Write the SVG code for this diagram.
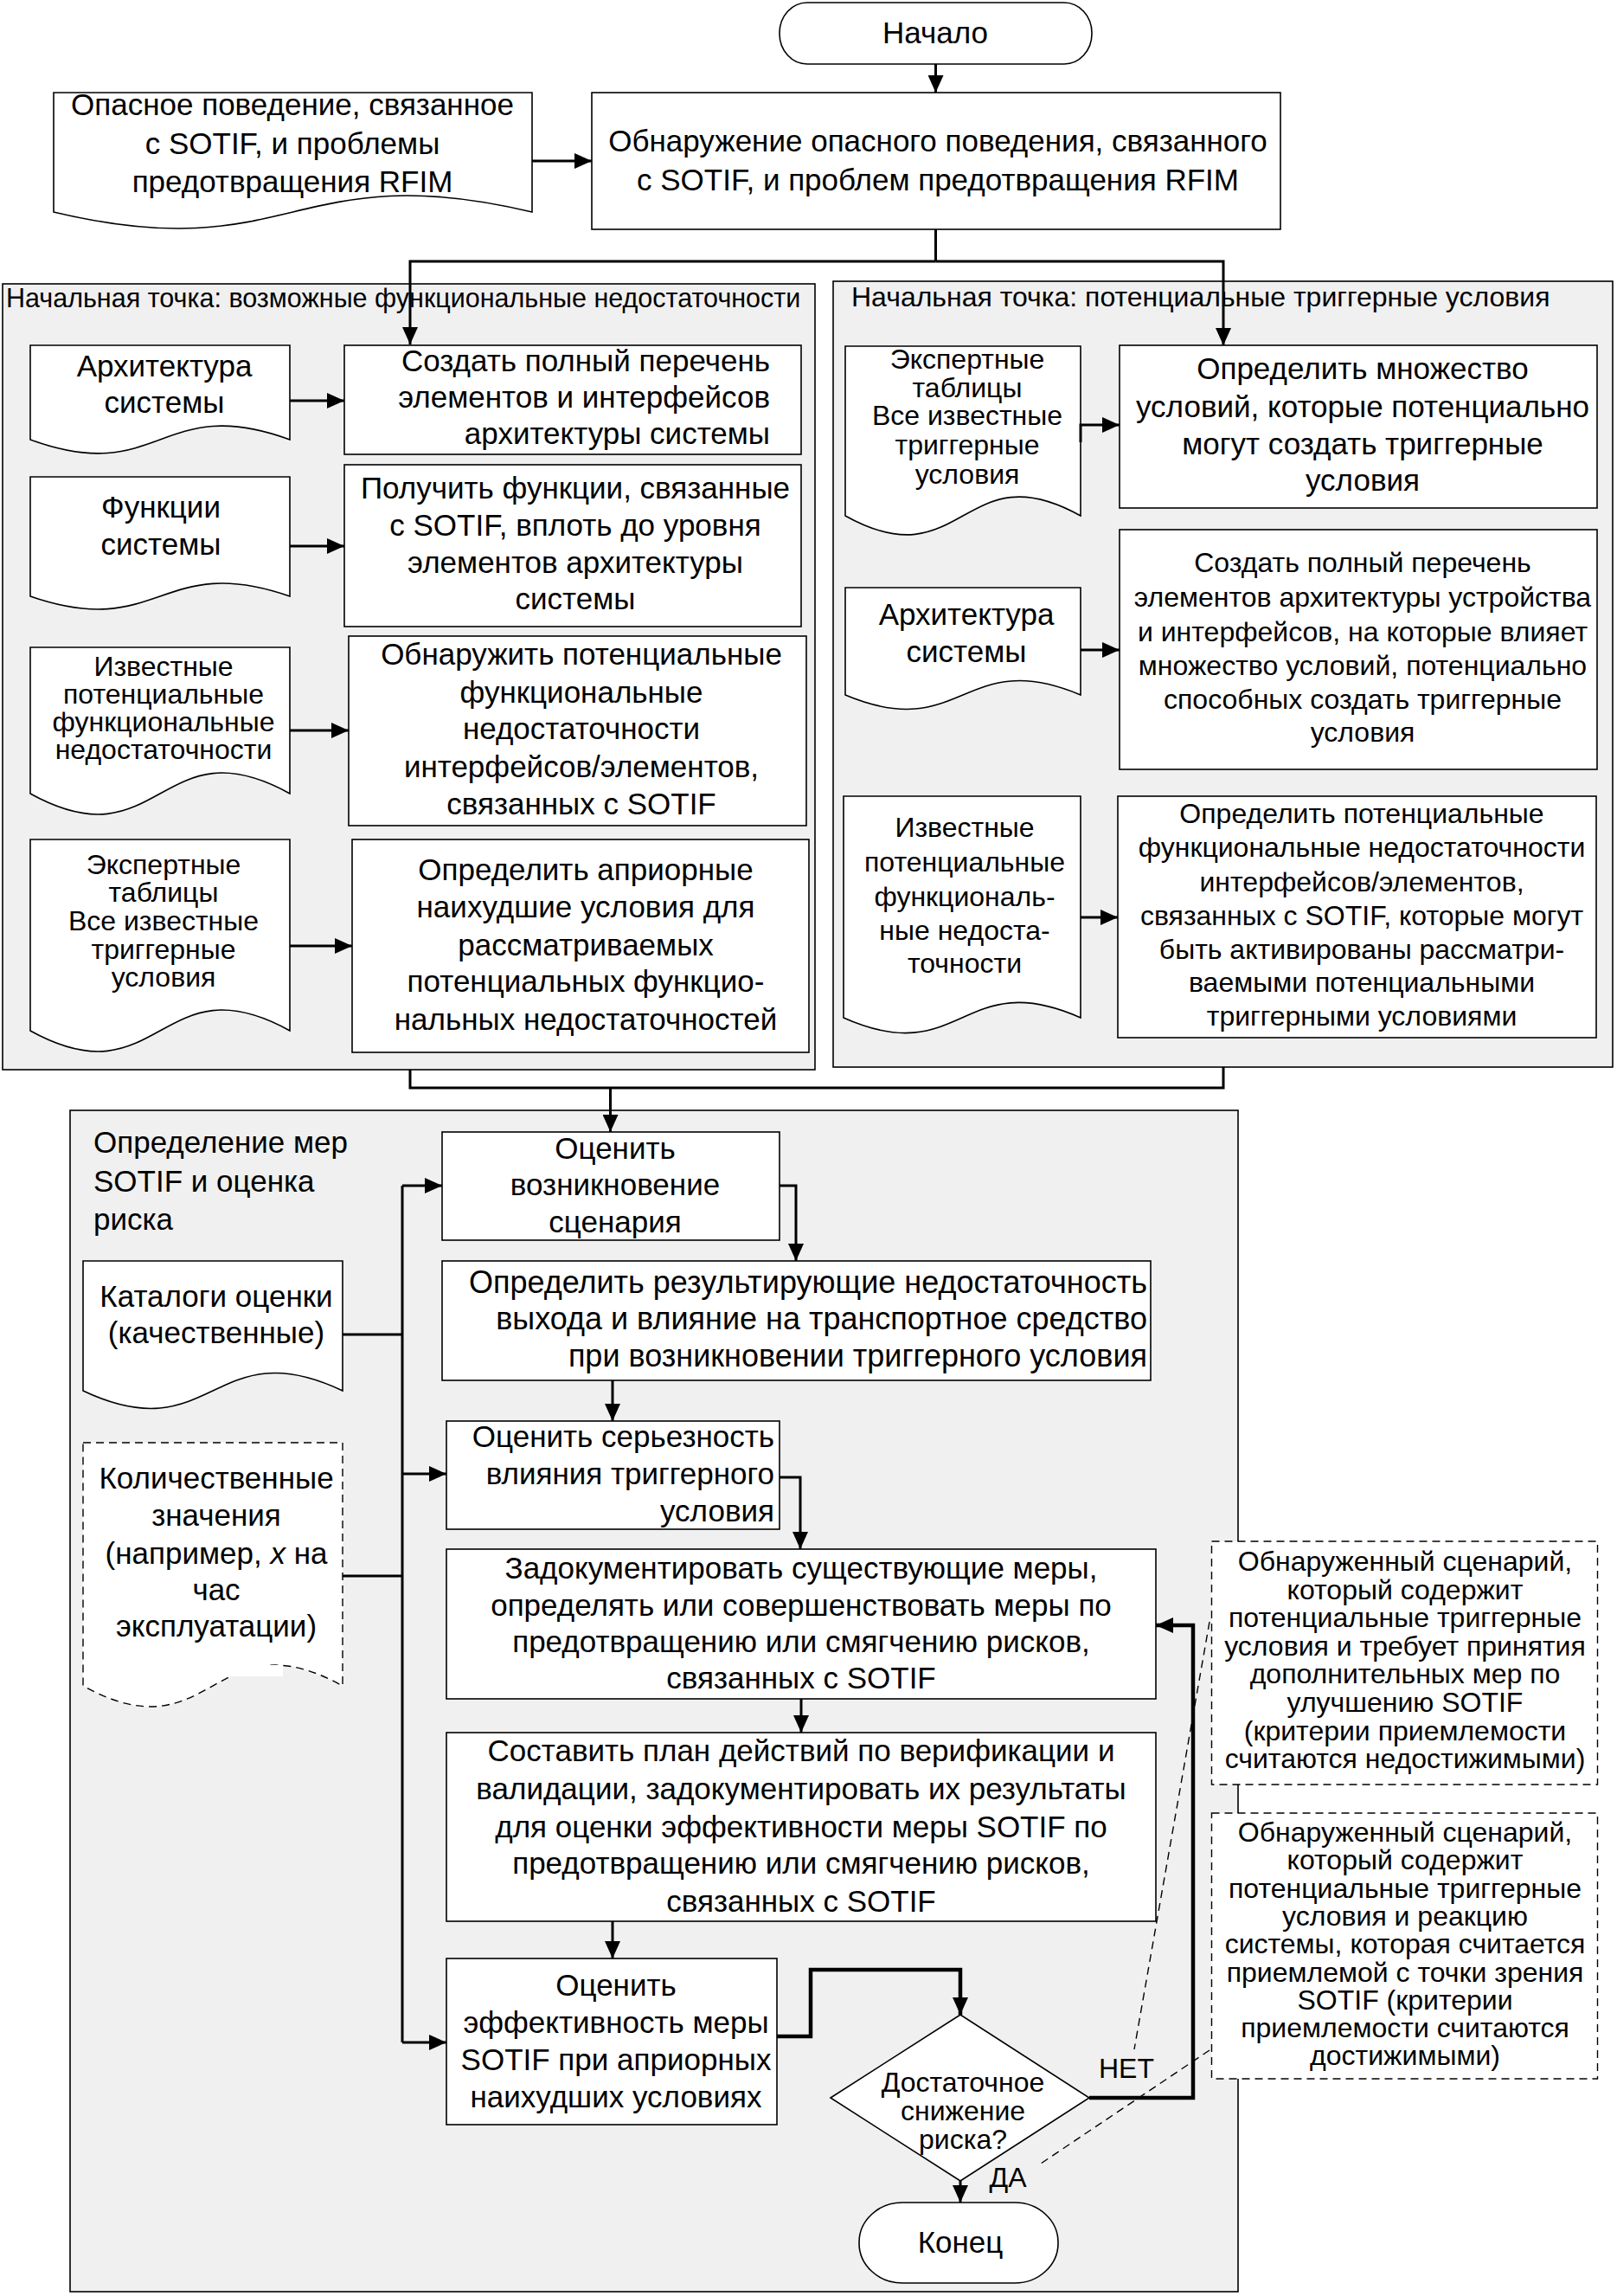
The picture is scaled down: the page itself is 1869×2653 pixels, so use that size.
<svg xmlns="http://www.w3.org/2000/svg" width="1869" height="2653" viewBox="0 0 1869 2653">
<defs>
<style>
text{font-family:"Liberation Sans",Arial,sans-serif;fill:#000}
.f35{font-size:35px}.f36{font-size:36px}.f32{font-size:32px}.f30{font-size:30.5px}
.c{text-anchor:middle}.e{text-anchor:end}
.box{fill:#fff;stroke:#000;stroke-width:1.6}
.panel{fill:#f0f0f0;stroke:#000;stroke-width:1.6}
.dash{fill:#fff;stroke:#000;stroke-width:1.4;stroke-dasharray:9 6}
.conn{fill:none;stroke:#000;stroke-width:3}
.thick{stroke-width:4.5}
.note{fill:none;stroke:#000;stroke-width:1.4;stroke-dasharray:9 6}
</style>
<marker id="ah" markerUnits="userSpaceOnUse" markerWidth="20" markerHeight="18" refX="20" refY="9" orient="auto">
<path d="M0,0 L20,9 L0,18 Z" fill="#000"/>
</marker>
</defs>
<rect width="1869" height="2653" fill="#fff"/>

<g id="panel-left"><rect class="panel" x="3" y="328" width="939" height="908"/>
<text class="f30" x="7" y="355">Начальная точка: возможные функциональные недостаточности</text></g>
<g id="panel-right"><rect class="panel" x="963" y="325" width="901" height="908"/>
<text class="f32" x="984" y="354">Начальная точка: потенциальные триггерные условия</text></g>
<g id="panel-bottom"><rect class="panel" x="81" y="1283" width="1350" height="1365"/>
<text class="f35" x="108"><tspan x="108" y="1332">Определение мер</tspan><tspan x="108" y="1377">SOTIF и оценка</tspan><tspan x="108" y="1421">риска</tspan></text></g>

<g id="start"><rect class="box" x="901" y="3" width="361" height="71" rx="32" ry="35"/>
<text class="f35 c" x="1081" y="50">Начало</text></g>

<g id="doc-hazard"><path class="box" d="M62,107 H615 V245 C338.5,179 338.5,311 62,245 Z"/>
<text class="f35 c"><tspan x="338" y="133">Опасное поведение, связанное</tspan><tspan x="338" y="178">с SOTIF, и проблемы</tspan><tspan x="338" y="222">предотвращения RFIM</tspan></text></g>

<g id="identify"><rect class="box" x="684" y="107" width="796" height="158"/>
<text class="f35 c"><tspan x="1084" y="175">Обнаружение опасного поведения, связанного</tspan><tspan x="1084" y="220">с SOTIF, и проблем предотвращения RFIM</tspan></text></g>

<g id="doc-l1"><path class="box" d="M35,399 H335 V508 C185,453 185,563 35,508 Z"/>
<text class="f35 c"><tspan x="190" y="435">Архитектура</tspan><tspan x="190" y="477">системы</tspan></text></g>
<g id="box-l1"><rect class="box" x="398" y="399" width="528" height="126"/>
<text class="f35 e"><tspan x="890" y="429">Создать полный перечень</tspan><tspan x="890" y="471">элементов и интерфейсов</tspan><tspan x="890" y="513">архитектуры системы</tspan></text></g>

<g id="doc-l2"><path class="box" d="M35,551 H335 V689 C185,637 185,741 35,689 Z"/>
<text class="f35 c"><tspan x="186" y="598">Функции</tspan><tspan x="186" y="641">системы</tspan></text></g>
<g id="box-l2"><rect class="box" x="398" y="537" width="528" height="187"/>
<text class="f35 c"><tspan x="665" y="576">Получить функции, связанные</tspan><tspan x="665" y="619">с SOTIF, вплоть до уровня</tspan><tspan x="665" y="662">элементов архитектуры</tspan><tspan x="665" y="704">системы</tspan></text></g>

<g id="doc-l3"><path class="box" d="M35,748 H335 V917 C185,834 185,1000 35,917 Z"/>
<text class="f32 c"><tspan x="189" y="781">Известные</tspan><tspan x="189" y="813">потенциальные</tspan><tspan x="189" y="845">функциональные</tspan><tspan x="189" y="877">недостаточности</tspan></text></g>
<g id="box-l3"><rect class="box" x="403" y="735" width="529" height="219"/>
<text class="f35 c"><tspan x="672" y="768">Обнаружить потенциальные</tspan><tspan x="672" y="812">функциональные</tspan><tspan x="672" y="854">недостаточности</tspan><tspan x="672" y="898">интерфейсов/элементов,</tspan><tspan x="672" y="941">связанных с SOTIF</tspan></text></g>

<g id="doc-l4"><path class="box" d="M35,970 H335 V1191 C185,1108 185,1274 35,1191 Z"/>
<text class="f32 c"><tspan x="189" y="1010">Экспертные</tspan><tspan x="189" y="1042">таблицы</tspan><tspan x="189" y="1075">Все известные</tspan><tspan x="189" y="1108">триггерные</tspan><tspan x="189" y="1140">условия</tspan></text></g>
<g id="box-l4"><rect class="box" x="407" y="970" width="528" height="246"/>
<text class="f35 c"><tspan x="677" y="1017">Определить априорные</tspan><tspan x="677" y="1060">наихудшие условия для</tspan><tspan x="677" y="1104">рассматриваемых</tspan><tspan x="677" y="1146">потенциальных функцио-</tspan><tspan x="677" y="1190">нальных недостаточностей</tspan></text></g>

<g id="doc-r1"><path class="box" d="M977,400 H1249 V596 C1113,520 1113,672 977,596 Z"/>
<text class="f32 c"><tspan x="1118" y="426">Экспертные</tspan><tspan x="1118" y="459">таблицы</tspan><tspan x="1118" y="491">Все известные</tspan><tspan x="1118" y="525">триггерные</tspan><tspan x="1118" y="559">условия</tspan></text></g>
<g id="box-r1"><rect class="box" x="1294" y="399" width="552" height="188"/>
<text class="f35 c"><tspan x="1575" y="438">Определить множество</tspan><tspan x="1575" y="482">условий, которые потенциально</tspan><tspan x="1575" y="525">могут создать триггерные</tspan><tspan x="1575" y="567">условия</tspan></text></g>

<g id="doc-r2"><path class="box" d="M977,679 H1249 V803 C1113,746 1113,860 977,803 Z"/>
<text class="f35 c"><tspan x="1117" y="722">Архитектура</tspan><tspan x="1117" y="765">системы</tspan></text></g>
<g id="box-r2"><rect class="box" x="1294" y="612" width="552" height="277"/>
<text class="f32 c"><tspan x="1575" y="661">Создать полный перечень</tspan><tspan x="1575" y="701">элементов архитектуры устройства</tspan><tspan x="1575" y="741">и интерфейсов, на которые влияет</tspan><tspan x="1575" y="780">множество условий, потенциально</tspan><tspan x="1575" y="819">способных создать триггерные</tspan><tspan x="1575" y="857">условия</tspan></text></g>

<g id="doc-r3"><path class="box" d="M975,920 H1249 V1176 C1112,1115 1112,1237 975,1176 Z"/>
<text class="f32 c"><tspan x="1115" y="967">Известные</tspan><tspan x="1115" y="1007">потенциальные</tspan><tspan x="1115" y="1047">функциональ-</tspan><tspan x="1115" y="1086">ные недоста-</tspan><tspan x="1115" y="1124">точности</tspan></text></g>
<g id="box-r3"><rect class="box" x="1292" y="920" width="553" height="279"/>
<text class="f32 c"><tspan x="1574" y="951">Определить потенциальные</tspan><tspan x="1574" y="990">функциональные недостаточности</tspan><tspan x="1574" y="1030">интерфейсов/элементов,</tspan><tspan x="1574" y="1069">связанных с SOTIF, которые могут</tspan><tspan x="1574" y="1108">быть активированы рассматри-</tspan><tspan x="1574" y="1146">ваемыми потенциальными</tspan><tspan x="1574" y="1185">триггерными условиями</tspan></text></g>

<g id="doc-catalog"><path class="box" d="M96,1457 H396 V1607 C246,1536 246,1678 96,1607 Z"/>
<text class="f35 c"><tspan x="250" y="1510">Каталоги оценки</tspan><tspan x="250" y="1552">(качественные)</tspan></text></g>
<g id="doc-quant"><path class="dash" d="M96,1667 H396 V1948 C246,1865 246,2031 96,1948 Z"/>
<rect x="264" y="1924" width="63" height="13" fill="#fff"/>
<text class="f35 c"><tspan x="250" y="1720">Количественные</tspan><tspan x="250" y="1763">значения</tspan><tspan x="250" y="1807">(например, <tspan font-style="italic">x</tspan> на</tspan><tspan x="250" y="1849">час</tspan><tspan x="250" y="1891">эксплуатации)</tspan></text></g>

<g id="b1"><rect class="box" x="511" y="1308" width="390" height="125"/>
<text class="f35 c"><tspan x="711" y="1339">Оценить</tspan><tspan x="711" y="1381">возникновение</tspan><tspan x="711" y="1424">сценария</tspan></text></g>
<g id="b2"><rect class="box" x="511" y="1457" width="819" height="138"/>
<text class="f36 e"><tspan x="1326" y="1494">Определить результирующие недостаточность</tspan><tspan x="1326" y="1536">выхода и влияние на транспортное средство</tspan><tspan x="1326" y="1579">при возникновении триггерного условия</tspan></text></g>
<g id="b3"><rect class="box" x="516" y="1642" width="385" height="125"/>
<text class="f35 e"><tspan x="895" y="1672">Оценить серьезность</tspan><tspan x="895" y="1715">влияния триггерного</tspan><tspan x="895" y="1758">условия</tspan></text></g>
<g id="b4"><rect class="box" x="516" y="1790" width="820" height="173"/>
<text class="f35 c"><tspan x="926" y="1824">Задокументировать существующие меры,</tspan><tspan x="926" y="1867">определять или совершенствовать меры по</tspan><tspan x="926" y="1909">предотвращению или смягчению рисков,</tspan><tspan x="926" y="1951">связанных с SOTIF</tspan></text></g>
<g id="b5"><rect class="box" x="516" y="2002" width="820" height="218"/>
<text class="f35 c"><tspan x="926" y="2035">Составить план действий по верификации и</tspan><tspan x="926" y="2079">валидации, задокументировать их результаты</tspan><tspan x="926" y="2123">для оценки эффективности меры SOTIF по</tspan><tspan x="926" y="2165">предотвращению или смягчению рисков,</tspan><tspan x="926" y="2209">связанных с SOTIF</tspan></text></g>
<g id="b6"><rect class="box" x="516" y="2263" width="382" height="192"/>
<text class="f35 c"><tspan x="712" y="2306">Оценить</tspan><tspan x="712" y="2349">эффективность меры</tspan><tspan x="712" y="2392">SOTIF при априорных</tspan><tspan x="712" y="2435">наихудших условиях</tspan></text></g>

<g id="decision"><polygon class="box" points="960,2424 1110,2328 1259,2424 1110,2520"/>
<text class="f32 c"><tspan x="1113" y="2417">Достаточное</tspan><tspan x="1113" y="2450">снижение</tspan><tspan x="1113" y="2483">риска?</tspan></text></g>

<g id="end"><rect class="box" x="993" y="2545" width="230" height="93" rx="50" ry="46"/>
<text class="f35 c" x="1110" y="2603">Конец</text></g>

<g id="note1"><rect class="dash" x="1400.5" y="1781" width="446" height="281"/>
<text class="f32 c"><tspan x="1624" y="1815">Обнаруженный сценарий,</tspan><tspan x="1624" y="1848">который содержит</tspan><tspan x="1624" y="1880">потенциальные триггерные</tspan><tspan x="1624" y="1913">условия и требует принятия</tspan><tspan x="1624" y="1945">дополнительных мер по</tspan><tspan x="1624" y="1978">улучшению SOTIF</tspan><tspan x="1624" y="2011">(критерии приемлемости</tspan><tspan x="1624" y="2043">считаются недостижимыми)</tspan></text></g>
<g id="note2"><rect class="dash" x="1400.5" y="2095" width="446" height="307"/>
<text class="f32 c"><tspan x="1624" y="2128">Обнаруженный сценарий,</tspan><tspan x="1624" y="2160">который содержит</tspan><tspan x="1624" y="2193">потенциальные триггерные</tspan><tspan x="1624" y="2225">условия и реакцию</tspan><tspan x="1624" y="2257">системы, которая считается</tspan><tspan x="1624" y="2290">приемлемой с точки зрения</tspan><tspan x="1624" y="2322">SOTIF (критерии</tspan><tspan x="1624" y="2354">приемлемости считаются</tspan><tspan x="1624" y="2386">достижимыми)</tspan></text></g>

<g id="connectors">
<path class="conn" d="M615,186 H684" marker-end="url(#ah)"/>
<path class="conn" d="M1081.5,74 V107" marker-end="url(#ah)"/>
<path class="conn" d="M1081.5,265 V302"/>
<path class="conn" d="M1081.5,302 H474 V398" marker-end="url(#ah)"/>
<path class="conn" d="M1081.5,302 H1414 V399" marker-end="url(#ah)"/>
<path class="conn" d="M335,463 H398" marker-end="url(#ah)"/>
<path class="conn" d="M335,631 H398" marker-end="url(#ah)"/>
<path class="conn" d="M335,844 H403" marker-end="url(#ah)"/>
<path class="conn" d="M335,1093 H407" marker-end="url(#ah)"/>
<path class="conn" d="M1249,511 V491 H1294" marker-end="url(#ah)"/>
<path class="conn" d="M1249,751 H1294" marker-end="url(#ah)"/>
<path class="conn" d="M1249,1060 H1292" marker-end="url(#ah)"/>
<path class="conn" d="M474,1236 V1257 H1414 V1233"/>
<path class="conn" d="M705.5,1257 V1308" marker-end="url(#ah)"/>
<path class="conn" d="M396,1542 H465"/>
<path class="conn" d="M396,1821 H465"/>
<path class="conn" d="M465,1370 V2360"/>
<path class="conn" d="M465,1370 H511" marker-end="url(#ah)"/>
<path class="conn" d="M465,1703 H516" marker-end="url(#ah)"/>
<path class="conn" d="M465,2360 H516" marker-end="url(#ah)"/>
<path class="conn" d="M901,1370 H920 V1457" marker-end="url(#ah)"/>
<path class="conn" d="M708,1595 V1642" marker-end="url(#ah)"/>
<path class="conn" d="M901,1707 H925 V1790" marker-end="url(#ah)"/>
<path class="conn" d="M926,1963 V2002" marker-end="url(#ah)"/>
<path class="conn" d="M708,2220 V2263" marker-end="url(#ah)"/>
<path class="conn thick" d="M898,2353 H937 V2276 H1110 V2328" marker-end="url(#ah)"/>
<path class="conn thick" d="M1259,2424 H1379 V1878 H1336" marker-end="url(#ah)"/>
<path class="conn" d="M1110,2520 V2545" marker-end="url(#ah)"/>
<path class="note" d="M1398,1874 L1311,2368"/>
<path class="note" d="M1398,2369 L1203,2500"/>
<text class="f32 c" x="1302" y="2401">НЕТ</text>
<text class="f32 c" x="1165" y="2527">ДА</text>
</g>
</svg>
